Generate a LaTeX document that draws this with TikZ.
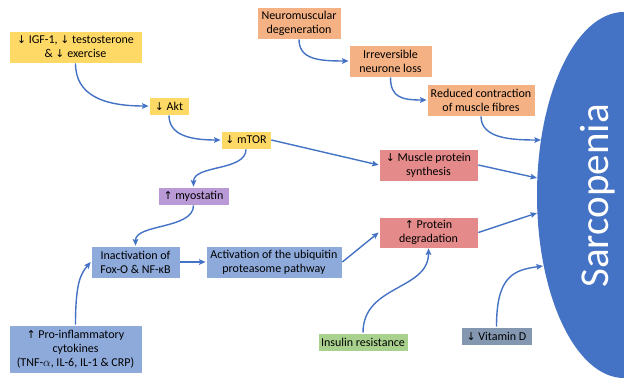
\documentclass[tikz,border=0pt]{standalone}
\usepackage{fontspec}
\setmainfont{Carlito}
\newfontfamily\arr{DejaVu Sans}[Scale=0.9]
\usetikzlibrary{arrows.meta}
\definecolor{yel}{HTML}{FFD966}
\definecolor{pur}{HTML}{B99AD6}
\definecolor{blu}{HTML}{8EAADB}
\definecolor{ora}{HTML}{F4B183}
\definecolor{red}{HTML}{E48A8A}
\definecolor{gre}{HTML}{A9D18E}
\definecolor{gry}{HTML}{8497B0}
\definecolor{dkb}{HTML}{4472C4}
\newcommand{\dn}{{\arr ↓}}
\newcommand{\upa}{{\arr ↑}}
\begin{document}
\begin{tikzpicture}[x=1pt,y=-1pt,
  box/.style={draw=white, line width=0.7pt, align=center, inner sep=0pt,
    font=\fontsize{12}{14.2}\selectfont, text=black},
  conn/.style={draw=dkb, line width=1.4pt, -{Stealth[length=6.5pt,width=5.5pt,inset=1pt]}}]
\useasboundingbox (0,0) rectangle (624,379);
% Sarcopenia ellipse
\begin{scope}
\clip (0,0) rectangle (624,379);
\fill[dkb] (624,195) ellipse [x radius=87, y radius=183];
\end{scope}
\node[rotate=90, text=white, font=\fontsize{41}{43}\selectfont, inner sep=0pt] (sar) at (598,196) {Sarcopenia};
\coordinate (e1) at (541,140);
\coordinate (e2) at (537,178);
\coordinate (e3) at (537,213);
\coordinate (e4) at (543,266);
% boxes
\node[box, fill=yel, minimum width=133pt, minimum height=32pt] (igf) at (75.5,47) {\dn\ IGF-1, \dn\ testosterone\\ \& \dn\ exercise};
\node[box, fill=yel, minimum width=40pt, minimum height=18pt] (akt) at (169,106) {\dn\ Akt};
\node[box, fill=yel, minimum width=50pt, minimum height=18pt] (mtor) at (246,140) {\dn\ mTOR};
\node[box, fill=pur, minimum width=71pt, minimum height=18pt] (myo) at (193.5,196) {\upa\ myostatin};
\node[box, fill=blu, minimum width=89pt, minimum height=32pt] (inact) at (135.5,262) {Inactivation of\\ Fox-O \& NF-κB};
\node[box, fill=blu, minimum width=136pt, minimum height=32pt] (activ) at (274,262) {Activation of the ubiquitin\\ proteasome pathway};
\node[box, fill=blu, minimum width=133pt, minimum height=48pt] (proinf) at (75.5,349) {\upa\ Pro-inflammatory\\ cytokines\\ (TNF-$\alpha$, IL-6, IL-1 \& CRP)};
\node[box, fill=ora, minimum width=84pt, minimum height=32pt] (neuro) at (299,23) {Neuromuscular\\ degeneration};
\node[box, fill=ora, minimum width=83pt, minimum height=32pt] (irrev) at (390.5,61) {Irreversible\\ neurone loss};
\node[box, fill=ora, minimum width=108pt, minimum height=32pt] (reduced) at (481,100) {Reduced contraction\\ of muscle fibres};
\node[box, fill=red, minimum width=99pt, minimum height=32pt] (mps) at (428.5,165) {\dn\ Muscle protein\\ synthesis};
\node[box, fill=red, minimum width=99pt, minimum height=31pt] (pdeg) at (428.5,232.5) {\upa\ Protein\\ degradation};
\node[box, fill=gre, minimum width=90pt, minimum height=18pt] (ins) at (363,342) {Insulin resistance};
\node[box, fill=gry, minimum width=71pt, minimum height=18pt] (vitd) at (496.5,336) {\dn\ Vitamin D};
% connectors
\draw[conn] (igf.south) .. controls +(0,32) and +(-45,0) .. (akt.west);
\draw[conn] (akt.south) .. controls +(0,20) and +(-30,0) .. (mtor.west);
\draw[conn] (mtor.south) .. controls +(0,22) and +(0,-22) .. (myo.north);
\draw[conn] (mtor.east) -- (mps.west);
\draw[conn] (myo.south) .. controls +(0,24) and +(0,-22) .. (inact.north);
\draw[conn] (inact.east) -- (activ.west);
\draw[conn] (proinf.north) .. controls +(0,-42) and +(-10,12) .. (inact.west);
\draw[conn] (activ.east) -- (pdeg.west);
\draw[conn] (ins.north) .. controls +(0,-48) and +(0,42) .. (pdeg.south);
\draw[conn] (pdeg.east) -- (e3);
\draw[conn] (mps.east) -- (e2);
\draw[conn] (reduced.south) .. controls +(0,22) and +(-30,0) .. (e1);
\draw[conn] (neuro.south) .. controls +(0,20) and +(-30,0) .. (irrev.west);
\draw[conn] (irrev.south) .. controls +(0,20) and +(-25,0) .. (reduced.west);
\draw[conn] (vitd.north) .. controls +(0,-50) and +(-30,4) .. (e4);
\end{tikzpicture}
\end{document}
